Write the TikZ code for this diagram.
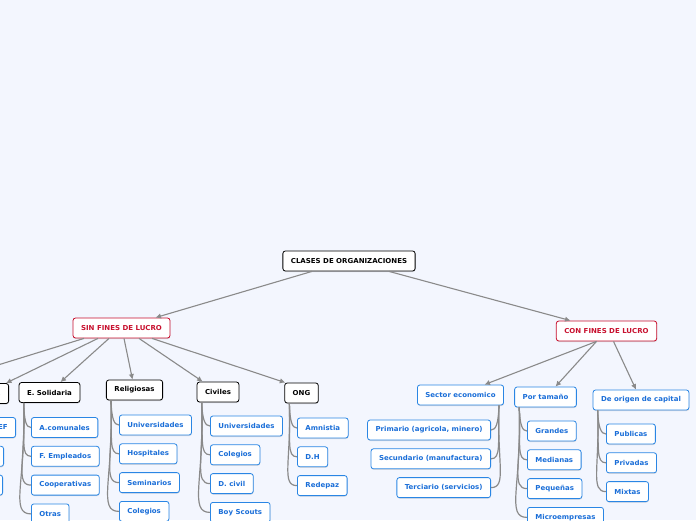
\documentclass[tikz,border=0pt]{standalone}
\usepackage{fontspec}
\newfontfamily\mapfont[FakeStretch=1.03]{DejaVu Sans}
\usetikzlibrary{arrows.meta,positioning,shadows}
\definecolor{mapbg}{HTML}{F3F6FE}
\definecolor{mapred}{HTML}{C8102E}
\definecolor{mapblue}{HTML}{2A86E4}
\definecolor{mapink}{HTML}{1A6ED8}
\definecolor{mapline}{HTML}{8A8A8A}
\begin{document}
\begin{tikzpicture}[x=1pt, y=-1pt,
        topic/.style={draw=black, fill=white, text=black, rounded corners=2.5pt, minimum height=20pt, inner xsep=8pt, inner ysep=2pt, line width=0.8pt, font=\mapfont\bfseries\fontsize{6.8}{7.5}\selectfont, drop shadow={shadow xshift=0.3pt, shadow yshift=-1pt, opacity=0.25}},
        main/.style={topic, draw=mapred, text=mapred},
        group/.style={topic},
        kind/.style={topic, draw=mapblue, text=mapink},
        leaf/.style={topic, draw=mapblue, text=mapink},
        arrow/.style={-{Latex[length=5.5pt, width=5.5pt]}, draw=mapline, line width=1.1pt},
        branch/.style={draw=mapline, line width=1.2pt, out=-88, out looseness=1.8, in looseness=0.5}
    ]
    \fill[mapbg] (0,0) rectangle (696,520);
    \useasboundingbox (0,0) rectangle (696,520);
    \clip (0,0) rectangle (696,520);
    % top levels
    \node[topic] (root) at (349,261) {CLASES DE ORGANIZACIONES};
    \node[main] (sin) at (121.5,328) {SIN FINES DE LUCRO};
    \node[main] (con) at (606.5,331) {CON FINES DE LUCRO};
    % sin fines de lucro
    \coordinate (offleft) at (-70,386);
    \node[group, anchor=east] (fund) at (9,393.5) {Fundaciones};
    \node[group] (sol) at (49.5,392.5) {E. Solidaria};
    \node[group] (rel) at (134.5,390) {Religiosas};
    \node[group] (civ) at (218,392) {Civiles};
    \node[group] (ong) at (301.5,393) {ONG};
    % con fines de lucro
    \node[kind] (sec) at (460.5,395) {Sector economico};
    \node[kind] (tam) at (545.5,397) {Por tamaño};
    \node[kind] (ori) at (641,400) {De origen de capital};
    % leaves
    \node[leaf, anchor=east] (fund1) at (16,427.5) {UNICEF};
    \node[leaf, below=8pt of fund1.south east, anchor=north east, xshift=-12pt, minimum width=50pt] (fund2) {};
    \node[leaf, below=8pt of fund2.south east, anchor=north east, xshift=-1pt, minimum width=50pt] (fund3) {};
    \node[leaf, anchor=west] (sol1) at (31,427.5) {A.comunales};
    \node[leaf, below=8pt of sol1.south west, anchor=north west] (sol2) {F. Empleados};
    \node[leaf, below=8pt of sol2.south west, anchor=north west] (sol3) {Cooperativas};
    \node[leaf, below=8pt of sol3.south west, anchor=north west] (sol4) {Otras};
    \node[leaf, anchor=west] (rel1) at (119,425) {Universidades};
    \node[leaf, below=8pt of rel1.south west, anchor=north west] (rel2) {Hospitales};
    \node[leaf, below=8pt of rel2.south west, anchor=north west] (rel3) {Seminarios};
    \node[leaf, below=8pt of rel3.south west, anchor=north west] (rel4) {Colegios};
    \node[leaf, anchor=west] (civ1) at (210,426) {Universidades};
    \node[leaf, below=8pt of civ1.south west, anchor=north west] (civ2) {Colegios};
    \node[leaf, below=8pt of civ2.south west, anchor=north west] (civ3) {D. civil};
    \node[leaf, below=8pt of civ3.south west, anchor=north west] (civ4) {Boy Scouts};
    \node[leaf, anchor=west] (ong1) at (297,428) {Amnistia};
    \node[leaf, below=8pt of ong1.south west, anchor=north west] (ong2) {D.H};
    \node[leaf, below=8pt of ong2.south west, anchor=north west] (ong3) {Redepaz};
    \node[leaf, anchor=east] (sec1) at (491,430) {Primario (agricola, minero)};
    \node[leaf, below=8pt of sec1.south east, anchor=north east] (sec2) {Secundario (manufactura)};
    \node[leaf, below=8pt of sec2.south east, anchor=north east] (sec3) {Terciario (servicios)};
    \node[leaf, anchor=west] (tam1) at (527,431) {Grandes};
    \node[leaf, below=8pt of tam1.south west, anchor=north west] (tam2) {Medianas};
    \node[leaf, below=8pt of tam2.south west, anchor=north west] (tam3) {Pequeñas};
    \node[leaf, below=8pt of tam3.south west, anchor=north west] (tam4) {Microempresas};
    \node[leaf, anchor=west] (ori1) at (606,434) {Publicas};
    \node[leaf, below=8pt of ori1.south west, anchor=north west] (ori2) {Privadas};
    \node[leaf, below=8pt of ori2.south west, anchor=north west] (ori3) {Mixtas};
    % arrows
    \draw[arrow] ([xshift=-37pt]root.south) -- ([xshift=34pt]sin.north);
    \draw[arrow] ([xshift=40pt]root.south) -- ([xshift=-36pt]con.north);
    \draw[arrow] ([xshift=-37.5pt]sin.south) -- (offleft);
    \draw[arrow] ([xshift=-23.5pt]sin.south) -- ([xshift=-3pt]fund.north east);
    \draw[arrow] ([xshift=-12.5pt]sin.south) -- ([xshift=11pt]sol.north);
    \draw[arrow] ([xshift=2.5pt]sin.south) -- ([xshift=-2pt]rel.north);
    \draw[arrow] ([xshift=17.5pt]sin.south) -- ([xshift=6pt]civ.north west);
    \draw[arrow] ([xshift=30.5pt]sin.south) -- ([xshift=1pt]ong.north west);
    \draw[arrow] ([xshift=-10pt]con.south) -- ([xshift=24pt]sec.north);
    \draw[arrow] ([xshift=-10pt]con.south) -- ([xshift=10pt]tam.north);
    \draw[arrow] ([xshift=7pt]con.south) -- ([xshift=-5pt]ori.north);
    % branches
    \foreach \k in {1,2,3} \draw[branch] ([xshift=-6pt]fund.south west) to[in=180] (fund\k.west);
    \foreach \k in {1,2,3,4} \draw[branch] ([xshift=5pt]sol.south west) to[in=180] (sol\k.west);
    \foreach \k in {1,2,3,4} \draw[branch] ([xshift=5pt]rel.south west) to[in=180] (rel\k.west);
    \foreach \k in {1,2,3,4} \draw[branch] ([xshift=5pt]civ.south west) to[in=180] (civ\k.west);
    \foreach \k in {1,2,3} \draw[branch] ([xshift=5pt]ong.south west) to[in=180] (ong\k.west);
    \foreach \k in {1,2,3} \draw[branch, out=-92] ([xshift=-5pt]sec.south east) to[in=0] (sec\k.east);
    \foreach \k in {1,2,3,4} \draw[branch] ([xshift=5pt]tam.south west) to[in=180] (tam\k.west);
    \foreach \k in {1,2,3} \draw[branch] ([xshift=5pt]ori.south west) to[in=180] (ori\k.west);
\end{tikzpicture}
\end{document}
